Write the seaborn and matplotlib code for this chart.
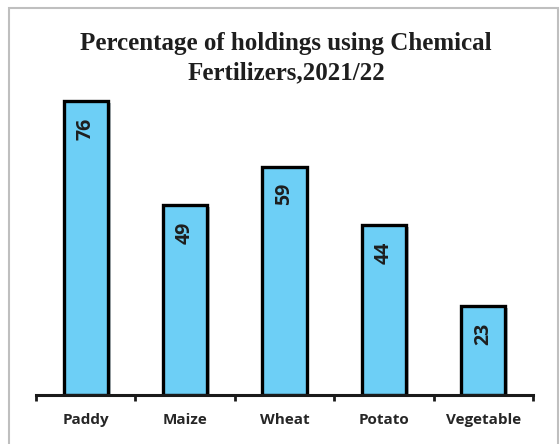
import pandas as pd
import matplotlib
matplotlib.use("Agg")
import matplotlib.pyplot as plt
import matplotlib.patheffects as pe
from matplotlib.patches import Rectangle
import seaborn as sns

crops = ["Paddy", "Maize", "Wheat", "Potato", "Vegetable"]
pct_using = [76, 49, 59, 44, 23]
title = "Percentage of holdings using Chemical\nFertilizers,2021/22"

sns.set_style("white")
plt.rcParams["font.family"] = ["Open Sans", "DejaVu Sans"]

df = pd.DataFrame({"crop": crops, "pct": pct_using})

fig = plt.figure(figsize=(5.6, 4.44), dpi=100)
ax = fig.add_axes([36 / 560, 1 - 395 / 444, 497 / 560, 313.6 / 444])

sns.barplot(data=df, x="crop", y="pct", ax=ax, color="#6dcff6", saturation=1,
            width=0.445, edgecolor="black", linewidth=2.4)

shadow = [pe.SimplePatchShadow(offset=(2, -1.5), alpha=0.35), pe.Normal()]
for bar in ax.patches:
    bar.set_path_effects(shadow)

for i, v in enumerate(pct_using):
    ax.annotate(str(v), xy=(i, v), xytext=(0, -12), textcoords="offset points",
                rotation=90, ha="center", va="top", fontsize=14,
                fontweight="bold", color="#1e1e1e")

ax.set_ylim(0, 81)
ax.set_xlim(-0.5, len(crops) - 0.5)
ax.set_xlabel("")
ax.set_ylabel("")
ax.set_yticks([])
for side in ["top", "right", "left"]:
    ax.spines[side].set_visible(False)
ax.spines["bottom"].set_linewidth(2.2)
ax.spines["bottom"].set_color("#1a1a1a")

# ticks sit between categories, labels under bars
ax.set_xticks(range(len(crops)))
ax.set_xticklabels(crops, fontsize=11, fontweight="bold", color="#262626")
ax.tick_params(axis="x", which="major", bottom=False, length=0, pad=13)
ax.set_xticks([i - 0.5 for i in range(len(crops) + 1)], minor=True)
ax.tick_params(axis="x", which="minor", bottom=True, direction="out",
               length=4.5, width=2, color="#1a1a1a")

fig.text(286 / 560, 1 - 58 / 444, title, ha="center", va="center",
         fontsize=18, fontweight="bold", family="Liberation Serif",
         color="#1e1e1e", linespacing=1.35)

fig.patches.append(Rectangle((9 / 560, -0.1), 549 / 560, 1.1 - 8 / 444,
                             transform=fig.transFigure, fill=False,
                             edgecolor="#bfbfbf", linewidth=1.5))

fig.savefig("out.png", dpi=100)
